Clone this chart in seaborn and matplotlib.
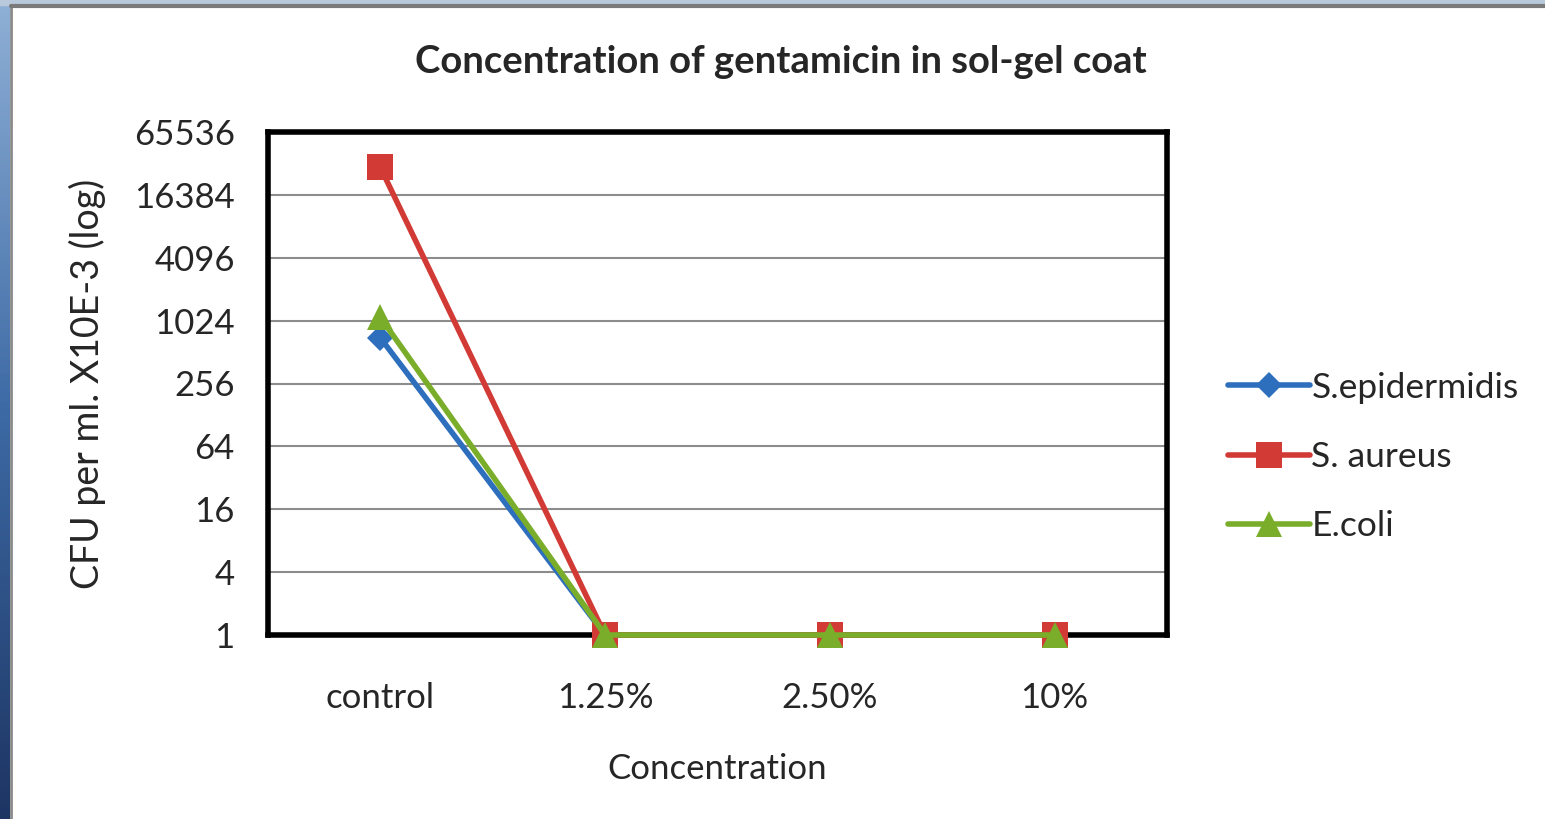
## Concentration of gentamicin in sol-gel coat - CFU counts on log2 scale

import numpy as np
import pandas as pd
import seaborn as sns
import matplotlib.pyplot as plt
from matplotlib.patches import Rectangle

# values
categories = ["control", "1.25%", "2.50%", "10%"]
s_epidermidis = [700, 1, 1, 1]
s_aureus = [30000, 1, 1, 1]
e_coli = [1100, 1, 1, 1]
series_names = ["S.epidermidis", "S. aureus", "E.coli"]
y_ticks = [1, 4, 16, 64, 256, 1024, 4096, 16384, 65536]

colors = {"S.epidermidis": "#2e6fbd", "S. aureus": "#d23a35", "E.coli": "#7aae2a"}
markers = {"S.epidermidis": "D", "S. aureus": "s", "E.coli": "^"}
msize = {"S.epidermidis": 13, "S. aureus": 19, "E.coli": 19}

df = pd.DataFrame({
    "Concentration": categories * 3,
    "CFU": s_epidermidis + s_aureus + e_coli,
    "Series": [n for n in series_names for _ in categories],
})

sns.set_style("white")
plt.rcParams["font.family"] = ["Lato", "DejaVu Sans"]

W, H = 1545, 819
fig = plt.figure(figsize=(W / 100, H / 100), dpi=100)
ax = fig.add_axes([268 / W, 1 - 635 / H, (1167 - 268) / W, (635 - 132) / H])

# slide background bits (blue strip left, light strip top, grey frame)
grad = fig.add_axes([0, 0, 10 / W, 1])
grad.imshow(np.linspace(0, 1, 200).reshape(-1, 1), aspect="auto",
            cmap=sns.blend_palette(["#8fb0d6", "#3d6aa5", "#1d3563"], as_cmap=True))
grad.set_axis_off()
fig.patches.append(Rectangle((0, 1 - 5 / H), 1, 5 / H, transform=fig.transFigure,
                             color="#b9c9dc", zorder=0))
fig.add_artist(plt.Line2D([11 / W, 11 / W], [0, 1 - 5 / H], transform=fig.transFigure,
                          color="#8a8a8a", lw=2))
fig.add_artist(plt.Line2D([11 / W, 1], [1 - 6 / H, 1 - 6 / H], transform=fig.transFigure,
                          color="#7a7a7a", lw=3))

for i, name in enumerate(series_names):
    sub = df[df["Series"] == name]
    sns.lineplot(data=sub, x="Concentration", y="CFU", ax=ax, sort=False,
                 color=colors[name], marker=markers[name], markersize=msize[name],
                 markeredgewidth=0, lw=4, label=name, clip_on=False, zorder=5 + i)

ax.set_yscale("log", base=2)
ax.set_ylim(1, 65536)
ax.set_xlim(-0.5, 3.5)
ax.set_yticks(y_ticks)
ax.set_yticklabels([str(t) for t in y_ticks])
ax.minorticks_off()
ax.grid(axis="y", color="#8c8c8c", lw=1.5)
ax.set_axisbelow(True)
for s in ax.spines.values():
    s.set_color("black")
    s.set_linewidth(4)
    s.set_zorder(3)
ax.tick_params(axis="y", length=8, width=1.5, color="#8c8c8c", labelsize=25, pad=16)
ax.tick_params(axis="x", length=0, labelsize=25, pad=34)

ax.set_xlabel("Concentration", fontsize=25, labelpad=28)
ax.set_ylabel("CFU per ml. X10E-3 (log)", fontsize=27, labelpad=20)
fig.text(781 / W, 1 - 62 / H, "Concentration of gentamicin in sol-gel coat",
         ha="center", va="center", fontsize=27.5, fontweight="bold")

handles, labels = ax.get_legend_handles_labels()
for h in handles:
    h.set_solid_capstyle("round")
ax.legend(handles, labels, loc="center left", bbox_to_anchor=(1214 / W, 1 - 457 / H),
          bbox_transform=fig.transFigure, frameon=False, fontsize=25.5,
          handlelength=2.3, handletextpad=0.05, labelspacing=1.05, borderaxespad=0)

fig.savefig("out.png", dpi=100)
